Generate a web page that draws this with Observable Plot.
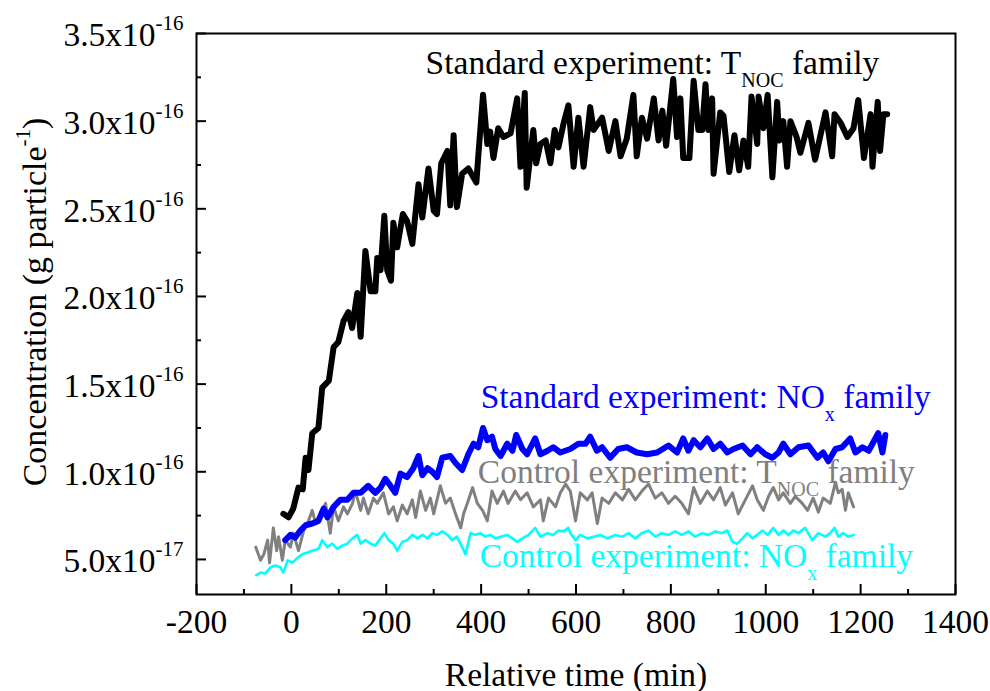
<!DOCTYPE html>
<html><head><meta charset="utf-8">
<script src="https://cdn.jsdelivr.net/npm/d3@7"></script>
<script src="https://cdn.jsdelivr.net/npm/@observablehq/plot@0.6"></script>
<style>
html,body{margin:0;padding:0;background:#fff;}
svg text{white-space:pre;}
</style>
</head><body><div id="chart"></div>
<script>
// concentration values are in units of 1e-17 g particle^-1
const UNIT = 1e-17;

// [relative time (min), concentration (x1e-17)]
const stdTnoc = [[-17,7.6],[-6,7.4],[4,7.9],[15,9.1],[24,9.0],[30,10.8],[36,10.1],[44,12.2],[57,12.5],[65,14.8],
[79,15.2],[89,17.1],[99,17.4],[110,18.6],[120,19.1],[128,18.2],[139,20.2],[146,17.7],[156,22.6],[167,20.3],
[177,20.3],[181,22.2],[188,21.5],[196,24.6],[202,21.5],[210,20.9],[215,24.2],[223,22.8],[235,24.7],[244,24.3],
[255,23.0],[268,26.4],[276,24.5],[289,27.3],[300,24.9],[307,24.7],[316,27.6],[329,28.3],[335,25.2],[342,29.2],
[349,25.1],[360,27.0],[373,27.3],[390,26.5],[394,28.0],[404,31.5],[413,28.7],[419,29.4],[426,27.9],[436,29.6],
[447,29.1],[462,29.3],[476,31.3],[483,27.4],[492,31.6],[496,26.2],[510,29.5],[516,27.6],[525,28.7],[536,28.9],
[546,27.6],[555,29.5],[563,28.5],[574,29.9],[584,30.9],[595,27.4],[605,30.2],[616,27.4],[630,30.8],[637,29.5],
[655,30.2],[669,28.3],[683,30.0],[694,28.0],[707,29.0],[721,31.5],[728,28.0],[739,30.2],[750,29.0],[764,31.3],
[774,28.9],[782,30.6],[790,28.6],[805,32.4],[813,29.1],[820,31.3],[826,27.9],[839,27.9],[848,32.3],[858,29.5],
[866,29.5],[873,32.1],[879,29.5],[887,31.3],[890,27.0],[904,30.5],[911,30.3],[923,27.1],[934,29.2],[944,27.2],
[953,28.9],[963,27.4],[970,31.4],[982,28.7],[985,31.4],[995,29.6],[1004,31.5],[1014,26.8],[1024,31.1],[1029,28.9],
[1037,30.0],[1045,27.4],[1052,30.0],[1065,29.1],[1073,28.2],[1090,29.9],[1104,27.8],[1126,30.5],[1140,28.0],[1145,30.4],
[1158,29.9],[1172,29.1],[1185,29.6],[1195,31.2],[1207,27.9],[1221,30.4],[1225,27.4],[1236,31.1],[1241,28.3],[1248,30.4],
[1256,30.4]];

const stdNox = [[-13,6.1],[-2,6.4],[8,6.25],[19,6.65],[30,6.95],[44,7.05],[57,7.2],[68,7.9],[76,7.4],[89,8.0],
[103,8.4],[118,8.4],[131,8.8],[146,8.8],[162,9.2],[177,8.8],[188,9.1],[198,9.6],[209,9.2],[219,8.8],
[230,9.9],[244,9.7],[257,10.2],[268,10.9],[276,9.8],[287,10.2],[297,10.0],[307,9.7],[318,10.8],[335,10.9],
[346,10.5],[360,10.1],[373,11.0],[384,11.6],[394,11.4],[404,12.5],[413,11.8],[423,12.0],[430,11.3],[441,10.9],
[455,11.6],[466,11.2],[474,12.1],[487,11.3],[497,11.0],[514,11.9],[525,11.0],[540,11.2],[552,11.4],[567,11.1],
[588,11.3],[605,11.6],[620,11.6],[630,12.0],[644,11.2],[655,11.4],[672,10.8],[689,11.3],[707,11.4],[728,11.1],
[750,11.0],[771,11.1],[795,11.5],[813,11.1],[826,11.9],[837,11.2],[848,11.8],[862,11.4],[877,11.9],[890,11.3],
[904,11.6],[919,11.1],[932,11.3],[951,11.5],[968,11.0],[982,11.4],[999,11.0],[1014,10.8],[1027,11.1],[1037,11.6],
[1052,11.0],[1069,11.4],[1090,11.5],[1109,10.8],[1121,11.1],[1132,10.6],[1147,11.3],[1161,11.4],[1178,11.9],[1189,11.1],
[1204,11.4],[1217,11.2],[1231,11.9],[1237,12.2],[1246,11.1],[1252,12.1]];

const ctrlTnoc = [[-75,5.7],[-65,4.95],[-58,5.3],[-50,6.1],[-46,4.8],[-38,6.8],[-31,5.5],[-27,6.3],[-19,4.95],[-13,6.1],
[-2,5.7],[4,6.5],[15,5.5],[26,6.65],[36,7.2],[44,7.8],[51,7.05],[61,7.6],[72,8.2],[82,6.5],
[89,8.0],[99,7.2],[110,8.0],[118,7.6],[129,8.2],[135,8.9],[146,7.8],[152,8.5],[162,7.6],[173,8.5],
[181,8.2],[194,8.8],[205,7.6],[215,8.0],[223,7.2],[234,8.1],[244,7.6],[255,8.4],[262,7.4],[272,8.9],
[283,7.8],[293,8.5],[300,7.6],[314,9.2],[325,8.2],[335,8.5],[346,7.6],[357,6.8],[363,7.6],[371,8.2],
[382,9.1],[392,8.2],[403,7.8],[413,7.2],[423,8.9],[434,8.2],[447,8.9],[457,8.2],[472,8.9],[483,8.4],
[497,8.8],[510,8.0],[525,8.4],[531,7.2],[542,8.5],[557,8.0],[567,8.8],[578,9.3],[588,8.9],[599,7.2],
[609,8.8],[624,8.4],[634,8.8],[645,7.05],[655,8.5],[669,8.2],[683,8.8],[698,8.4],[711,9.0],[725,8.4],
[739,8.9],[753,9.3],[767,8.5],[781,8.8],[795,8.2],[809,8.6],[823,8.2],[837,7.6],[848,9.1],[862,8.2],
[877,8.9],[890,8.4],[904,9.1],[915,8.1],[930,8.8],[942,7.6],[957,8.4],[972,9.2],[982,8.4],[995,7.8],
[1006,8.6],[1016,9.1],[1027,8.4],[1037,8.8],[1052,8.2],[1062,8.6],[1077,8.2],[1088,7.8],[1100,8.5],[1111,7.7],
[1121,8.5],[1136,8.2],[1147,9.4],[1153,8.8],[1161,9.0],[1168,7.8],[1174,8.8],[1185,8.0]];

const ctrlNox = [[-74,4.1],[-65,4.25],[-55,4.2],[-44,4.55],[-34,4.65],[-23,4.55],[-17,4.25],[-8,4.95],[2,4.8],[13,5.1],
[23,5.3],[34,5.4],[44,5.5],[57,5.6],[65,6.1],[76,5.7],[86,5.9],[97,5.6],[108,5.8],[118,5.9],
[129,6.2],[139,6.4],[146,5.9],[156,6.1],[167,5.9],[177,5.8],[188,6.2],[196,6.5],[205,6.1],[215,5.9],
[223,5.5],[234,6.0],[244,6.1],[255,6.4],[266,6.2],[276,6.4],[287,6.2],[297,6.5],[307,6.4],[318,6.6],
[329,6.4],[339,6.1],[349,6.3],[360,5.7],[367,5.3],[378,6.5],[388,6.4],[398,6.5],[409,6.3],[419,6.4],
[430,6.2],[441,6.3],[455,6.4],[466,6.2],[476,6.0],[487,6.2],[500,6.4],[514,6.8],[525,6.3],[540,6.5],
[552,6.4],[563,6.65],[574,6.6],[584,6.8],[588,6.5],[599,6.1],[609,6.4],[624,6.2],[637,6.3],[651,6.4],
[666,6.2],[683,6.4],[698,6.3],[711,6.5],[725,6.2],[739,6.5],[753,6.65],[767,6.3],[781,6.5],[795,6.4],
[809,6.6],[823,6.4],[837,6.6],[851,6.3],[866,6.5],[879,6.4],[894,6.6],[908,6.5],[919,6.65],[930,6.0],
[940,5.9],[951,6.2],[961,6.5],[972,6.2],[982,6.4],[993,6.65],[1004,6.4],[1016,6.8],[1027,6.4],[1037,6.65],
[1048,6.4],[1058,6.65],[1069,6.5],[1083,6.8],[1098,6.1],[1111,6.5],[1126,6.3],[1136,6.5],[1145,6.8],[1153,6.3],
[1163,6.5],[1174,6.3],[1185,6.4]];

const xMajorTicks = [-200, 0, 200, 400, 600, 800, 1000, 1200, 1400];
const xMinorTicks = [-100, 100, 300, 500, 700, 900, 1100, 1300];
const yMajorTicks = [5, 10, 15, 20, 25, 30, 35];          // x1e-17
const yMinorTicks = [7.5, 12.5, 17.5, 22.5, 27.5, 32.5];  // x1e-17
const yTickLabels = ["5.0x10^{-17}", "1.0x10^{-16}", "1.5x10^{-16}", "2.0x10^{-16}", "2.5x10^{-16}", "3.0x10^{-16}", "3.5x10^{-16}"];

const seriesLabels = [
  "Standard experiment: T_{NOC} family",
  "Standard experiment: NO_{x} family",
  "Control experiment: T_{NOC} family",
  "Control experiment: NO_{x} family"
];
const xTitle = "Relative time (min)";
const yTitle = "Concentration (g particle^{-1})";

// annotation anchor points (data coordinates: min, x1e-17)
const labelAnchors = [[283, 32.7], [399, 13.65], [393, 9.35], [397, 4.55]];
const colors = ["#000000", "#0000ff", "#808080", "#00ffff"];

const toRows = (arr) => arr.map(([t, c]) => ({t, c: c * UNIT}));
const annotations = seriesLabels.map((label, i) => ({
  label, t: labelAnchors[i][0], c: labelAnchors[i][1] * UNIT, color: colors[i]
}));

const W = 990, H = 691, mL = 196, mR = 35, mT = 33, mB = 97;
const innerW = W - mL - mR, innerH = H - mT - mB;
const FONT = "'Liberation Serif', 'Times New Roman', serif";
const FS = 33.5;

const plot = Plot.plot({
  width: W, height: H,
  marginLeft: mL, marginRight: mR, marginTop: mT, marginBottom: mB,
  style: {fontFamily: FONT, background: "#fff", color: "#000", overflow: "visible"},
  x: {domain: [-200, 1400]},
  y: {domain: [3 * UNIT, 35 * UNIT]},
  marks: [
    Plot.text(annotations, {x: "t", y: "c", text: "label", fill: "color", textAnchor: "start", lineAnchor: "bottom", fontSize: FS, fontFamily: FONT}),
    Plot.line(toRows(ctrlNox), {x: "t", y: "c", stroke: colors[3], strokeWidth: 2.6, strokeLinejoin: "round"}),
    Plot.line(toRows(ctrlTnoc), {x: "t", y: "c", stroke: colors[2], strokeWidth: 3, strokeLinejoin: "round"}),
    Plot.line(toRows(stdNox), {x: "t", y: "c", stroke: colors[1], strokeWidth: 6, strokeLinejoin: "round"}),
    Plot.line(toRows(stdTnoc), {x: "t", y: "c", stroke: colors[0], strokeWidth: 6, strokeLinejoin: "round"}),
    Plot.frame({stroke: "#000", strokeWidth: 2}),
    Plot.tickX(xMajorTicks, {x: d => d, insetTop: innerH - 10, stroke: "#000", strokeWidth: 2}),
    Plot.tickX(xMinorTicks, {x: d => d, insetTop: innerH - 5, stroke: "#000", strokeWidth: 2}),
    Plot.tickY(yMajorTicks.map(v => v * UNIT), {y: d => d, insetRight: innerW - 10, stroke: "#000", strokeWidth: 2}),
    Plot.tickY(yMinorTicks.map(v => v * UNIT), {y: d => d, insetRight: innerW - 5, stroke: "#000", strokeWidth: 2}),
    Plot.axisX({ticks: xMajorTicks, tickSize: 0, tickPadding: 15, fontSize: FS, fontFamily: FONT, tickFormat: d => String(d), label: null}),
    Plot.axisY({ticks: yMajorTicks.map(v => v * UNIT), tickSize: 0, tickPadding: 13, dy: 2, fontSize: FS, fontFamily: FONT,
      tickFormat: d => yTickLabels[yMajorTicks.indexOf(Math.round(d / UNIT * 10) / 10)], label: null}),
    Plot.text([xTitle], {frameAnchor: "bottom", dy: 91, text: d => d, textAnchor: "middle", lineAnchor: "bottom", fontSize: FS, fontFamily: FONT}),
    Plot.text([yTitle], {frameAnchor: "left", rotate: -90, dx: -151, dy: -12, text: d => d, textAnchor: "middle", lineAnchor: "bottom", fontSize: 34, fontFamily: FONT})
  ]
});

// turn ^{..} and _{..} markup into real superscript / subscript tspans
const NS = "http://www.w3.org/2000/svg";
function richText(el, s) {
  const re = /([_^])\{([^}]*)\}/g;
  const parts = [];
  let last = 0, m;
  while ((m = re.exec(s))) {
    if (m.index > last) parts.push({t: s.slice(last, m.index), k: ""});
    parts.push({t: m[2], k: m[1]});
    last = re.lastIndex;
  }
  if (last < s.length) parts.push({t: s.slice(last), k: ""});
  el.textContent = "";
  let cur = 0;
  for (const p of parts) {
    const ts = document.createElementNS(NS, "tspan");
    const target = p.k === "^" ? -16 : p.k === "_" ? 13 : 0;
    if (target - cur !== 0) ts.setAttribute("dy", target - cur);
    cur = target;
    if (p.k === "^") ts.setAttribute("font-size", 21);
    if (p.k === "_") ts.setAttribute("font-size", 20);
    ts.textContent = p.t;
    el.appendChild(ts);
  }
}
plot.querySelectorAll("text").forEach(el => {
  const s = el.textContent;
  if (/[_^]\{/.test(s)) richText(el, s);
});

document.getElementById("chart").appendChild(plot);
</script>
</body></html>
